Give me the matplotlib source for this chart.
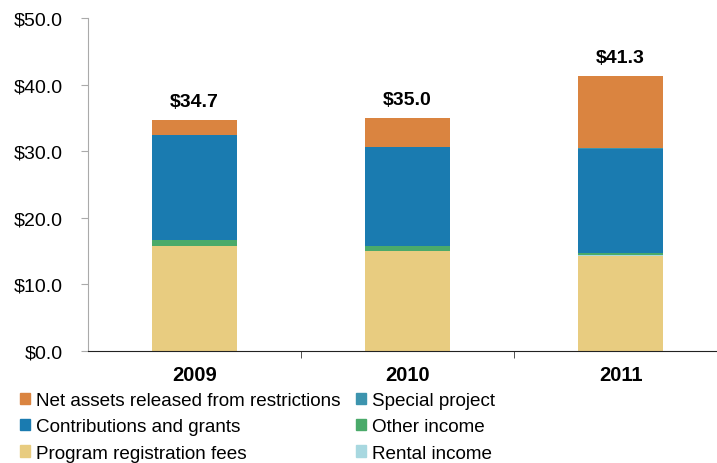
import matplotlib

matplotlib.use("Agg")
import matplotlib.pyplot as plt
import numpy as np
from matplotlib.patches import Patch

years = ["2009", "2010", "2011"]
program_fees = [15.8, 15.0, 14.3]
rental_income = [0.0, 0.0, 0.05]
other_income = [0.8, 0.7, 0.4]
contributions = [15.9, 14.9, 15.6]
special_project = [0.0, 0.0, 0.1]
net_assets = [2.2, 4.4, 10.85]
totals = ["$34.7", "$35.0", "$41.3"]

series = [
    ("Program registration fees", program_fees, "#E8CC80"),
    ("Rental income", rental_income, "#A8D8E0"),
    ("Other income", other_income, "#4AAA6A"),
    ("Contributions and grants", contributions, "#1A7BB0"),
    ("Special project", special_project, "#3D94AE"),
    ("Net assets released from restrictions", net_assets, "#DA8440"),
]

plt.rcParams["font.family"] = ["Liberation Sans", "DejaVu Sans"]

fig = plt.figure(figsize=(7.17, 4.64), dpi=100)
ax = fig.add_axes([88 / 717, 112 / 464, 639 / 717, 333 / 464])

x = np.arange(len(years))
bottom = np.zeros(len(years))
for name, vals, color in series:
    ax.bar(x, vals, width=0.4, bottom=bottom, color=color, label=name)
    bottom += np.array(vals)

for xi, top, lab in zip(x, bottom, totals):
    ax.annotate(lab, (xi, top), xytext=(0, 7), textcoords="offset points",
                ha="center", va="bottom", fontsize=14, fontweight="bold")

ax.set_xlim(-0.5, 2.5)
ax.set_ylim(0, 50)
ax.set_yticks(np.arange(0, 51, 10))
ax.set_yticklabels([f"${v:.1f}" for v in np.arange(0, 51, 10)], fontsize=14)
ax.set_xticks(x)
ax.set_xticklabels(years, fontsize=14.5, fontweight="bold")
ax.set_xticks([0.5, 1.5], minor=True)
ax.tick_params(axis="x", which="major", length=0, pad=10)
ax.tick_params(axis="x", which="minor", length=5, color="#333333")
ax.tick_params(axis="y", length=5, color="#aaaaaa", pad=13)

for s in ["top", "right"]:
    ax.spines[s].set_visible(False)
ax.spines["left"].set_color("#aaaaaa")
ax.spines["bottom"].set_color("#222222")

order = [5, 3, 0, 4, 2, 1]
handles = [Patch(color=series[i][2], label=series[i][0]) for i in order]
fig.legend(handles=handles, loc="lower left", bbox_to_anchor=(0.004, -0.034),
           ncol=2, frameon=False, fontsize=13.6, handlelength=0.55, handleheight=0.55,
           handletextpad=0.3, columnspacing=0.8, labelspacing=0.5)

fig.savefig("out.png", dpi=100)
